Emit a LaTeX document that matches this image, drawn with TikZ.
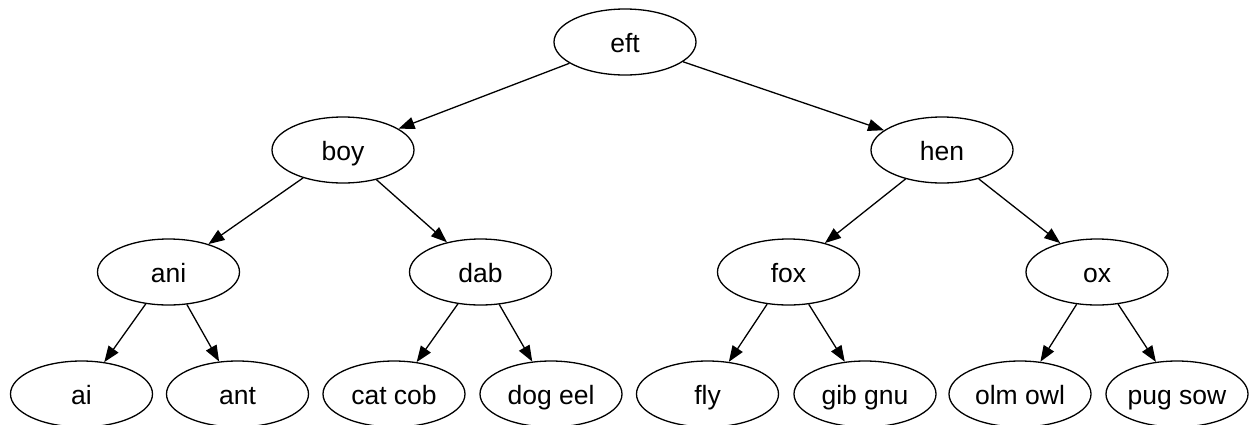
\documentclass[tikz,border=0pt]{standalone}
\usepackage{fontspec}
\setmainfont{Liberation Sans}
\usepackage{tikz}
\usetikzlibrary{shapes.geometric}
\usetikzlibrary{arrows.meta}

\tikzset{
  word/.style = {draw, ellipse, line width = 1.3pt, minimum width = 142pt,
    minimum height = 66pt, inner sep = 0, text height = 21pt, text depth = 0pt,
    font = \fontsize{26.5}{30}\selectfont},
  edge/.style = {line width = 1.3pt, -{Triangle[length=16pt, width=12pt]}}
}

\begin{document}
\begin{tikzpicture}[x = 1pt, y = -1pt]
  \useasboundingbox (0, 0) rectangle (1255, 424);
  \node[word] (eft) at (625, 42) {eft};
  \node[word] (boy) at (343, 150) {boy};
  \node[word] (hen) at (942, 150) {hen};
  \node[word] (ani) at (168.5, 272) {ani};
  \node[word] (dab) at (480.5, 272) {dab};
  \node[word] (fox) at (788.5, 272) {fox};
  \node[word] (ox) at (1097, 272) {ox};
  \node[word] (ai) at (81.5, 394) {ai};
  \node[word] (ant) at (237.5, 394) {ant};
  \node[word] (catcob) at (394, 394) {cat cob};
  \node[word] (dogeel) at (551, 394) {dog eel};
  \node[word] (fly) at (707.5, 394) {fly};
  \node[word] (gibgnu) at (865, 394) {gib gnu};
  \node[word] (olmowl) at (1020, 394) {olm owl};
  \node[word] (pugsow) at (1177, 394) {pug sow};
  \foreach \a/\b in {eft/boy, eft/hen, boy/ani, boy/dab, hen/fox, hen/ox,
    ani/ai, ani/ant, dab/catcob, dab/dogeel, fox/fly, fox/gibgnu,
    ox/olmowl, ox/pugsow}{
  \draw[edge] (\a) -- (\b);
  }
\end{tikzpicture}
\end{document}
